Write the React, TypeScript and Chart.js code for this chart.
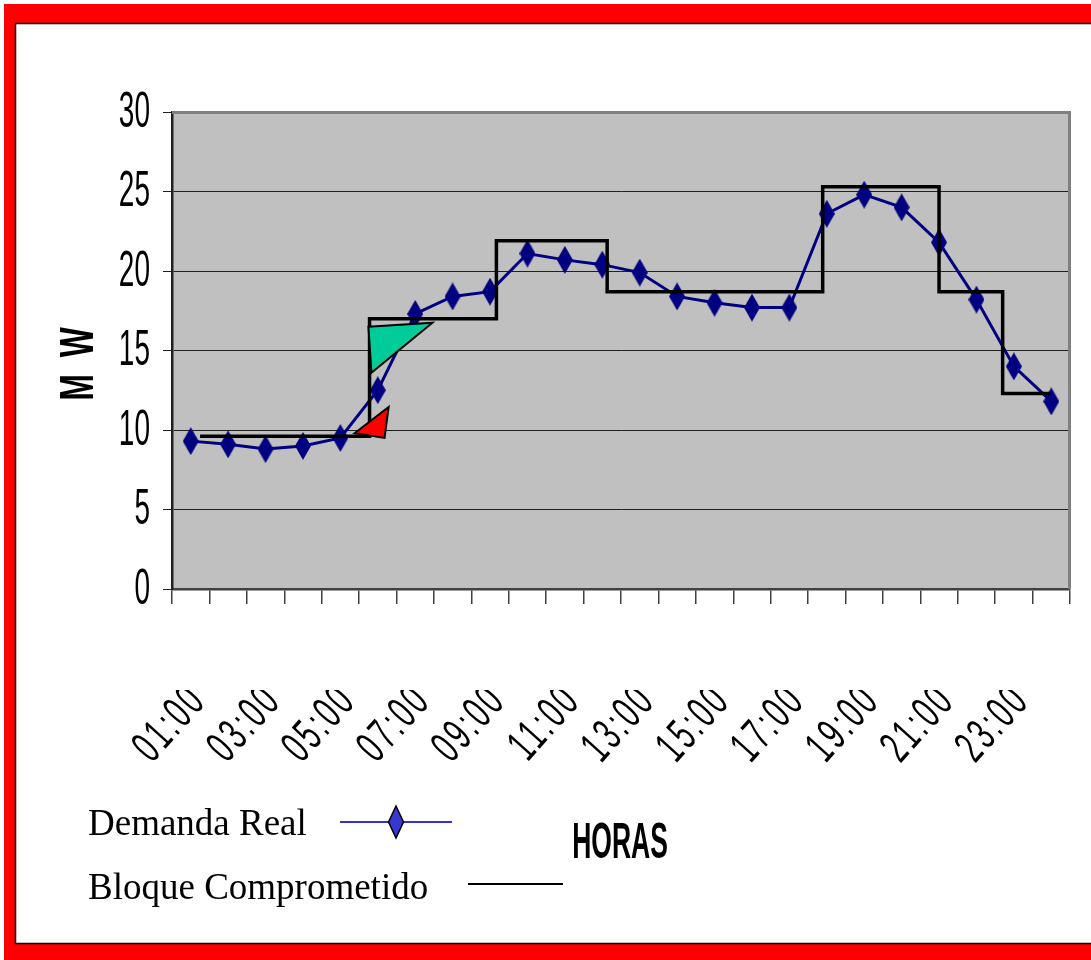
import React, { useEffect, useRef } from "react";
import { Chart, registerables } from "chart.js";

Chart.register(...registerables);

// ---- data ----
const hours = [
  "01:00", "02:00", "03:00", "04:00", "05:00", "06:00", "07:00", "08:00",
  "09:00", "10:00", "11:00", "12:00", "13:00", "14:00", "15:00", "16:00",
  "17:00", "18:00", "19:00", "20:00", "21:00", "22:00", "23:00", "24:00",
];
const demandaReal = [
  9.3, 9.1, 8.8, 9.0, 9.5, 12.5, 17.3, 18.4, 18.7, 21.1, 20.7, 20.4,
  19.9, 18.4, 18.0, 17.7, 17.7, 23.6, 24.8, 24.0, 21.8, 18.2, 14.0, 11.8,
];
// committed block: breakpoints (in hours along the axis) and levels (MW)
const bloqueX = [0.75, 5.28, 8.67, 11.63, 17.39, 20.5, 22.2, 23.47];
const bloqueY = [9.6, 17.0, 21.9, 18.7, 25.3, 18.7, 12.3, 12.3];
const yTicks = [0, 5, 10, 15, 20, 25, 30];
// annotation triangles (axis hours, MW)
const greenTriX = [5.25, 6.96, 5.33];
const greenTriY = [16.5, 16.75, 13.6];
const redTriX = [4.88, 5.79, 5.68];
const redTriY = [9.8, 11.45, 9.5];

const W = 1091;
const H = 960;

function makeDiamond(w: number, h: number, color: string) {
  const c = document.createElement("canvas");
  c.width = w;
  c.height = h;
  const g = c.getContext("2d")!;
  g.fillStyle = color;
  g.beginPath();
  g.moveTo(w / 2, 0);
  g.lineTo(w, h / 2);
  g.lineTo(w / 2, h);
  g.lineTo(0, h / 2);
  g.closePath();
  g.fill();
  return c;
}

function squeezedText(
  ctx: CanvasRenderingContext2D,
  text: string,
  x: number,
  y: number,
  font: string,
  sx: number,
  align: CanvasTextAlign,
  baseline: CanvasTextBaseline,
  rot = 0,
  spacing = "0px"
) {
  ctx.save();
  ctx.translate(x, y);
  ctx.rotate(rot);
  ctx.scale(sx, 1);
  ctx.font = font;
  (ctx as any).letterSpacing = spacing;
  ctx.fillStyle = "#000";
  ctx.textAlign = align;
  ctx.textBaseline = baseline;
  ctx.fillText(text, 0, 0);
  ctx.restore();
}

const framePlugin = {
  id: "framePlugin",
  beforeDraw(chart: any) {
    const ctx = chart.ctx as CanvasRenderingContext2D;
    const a = chart.chartArea;
    ctx.save();
    ctx.fillStyle = "#fff";
    ctx.fillRect(0, 0, W, H);
    ctx.fillStyle = "#ff0000";
    ctx.fillRect(4, 4, W - 4, 19);
    ctx.fillRect(4, 4, 11, H - 4);
    ctx.fillRect(4, 944, W - 4, H - 944);
    ctx.strokeStyle = "#000";
    ctx.lineWidth = 1.5;
    ctx.beginPath();
    ctx.moveTo(15, 23.5);
    ctx.lineTo(W, 23.5);
    ctx.moveTo(15.5, 23);
    ctx.lineTo(15.5, 944);
    ctx.moveTo(15, 943.5);
    ctx.lineTo(W, 943.5);
    ctx.stroke();
    ctx.fillStyle = "#c0c0c0";
    ctx.fillRect(a.left, a.top, a.right - a.left, a.bottom - a.top);
    ctx.restore();
  },
  afterDatasetsDraw(chart: any) {
    const ctx = chart.ctx as CanvasRenderingContext2D;
    const a = chart.chartArea;
    const sx = chart.scales.x2;
    const sy = chart.scales.y;
    ctx.save();
    // plot area frame (top / right)
    ctx.strokeStyle = "#808080";
    ctx.lineWidth = 3;
    ctx.beginPath();
    ctx.moveTo(a.left, a.top + 0.5);
    ctx.lineTo(a.right - 0.5, a.top + 0.5);
    ctx.lineTo(a.right - 0.5, a.bottom);
    ctx.stroke();
    // triangles
    const tri = (xs: number[], ys: number[], fill: string) => {
      ctx.beginPath();
      xs.forEach((v, i) => {
        const px = sx.getPixelForValue(v);
        const py = sy.getPixelForValue(ys[i]);
        if (i === 0) ctx.moveTo(px, py);
        else ctx.lineTo(px, py);
      });
      ctx.closePath();
      ctx.fillStyle = fill;
      ctx.fill();
      ctx.strokeStyle = "#000";
      ctx.lineWidth = 2;
      ctx.lineJoin = "miter";
      ctx.stroke();
    };
    tri(greenTriX, greenTriY, "#00cc99");
    tri(redTriX, redTriY, "#ff0000");
    ctx.restore();
  },
  afterDraw(chart: any) {
    const ctx = chart.ctx as CanvasRenderingContext2D;
    const xs = chart.scales.x;
    const ys = chart.scales.y;
    // y tick labels
    yTicks.forEach((v) => {
      squeezedText(ctx, String(v), 150, ys.getPixelForValue(v) + 1, "50px 'Liberation Sans', Arial, sans-serif", 0.56, "right", "middle");
    });
    // x tick labels (every other hour), clipped at the top as in the original
    ctx.save();
    ctx.beginPath();
    ctx.rect(0, 690, W, 120);
    ctx.clip();
    hours.forEach((lab, i) => {
      if (i % 2 !== 0) return;
      const px = xs.getPixelForValue(i);
      squeezedText(ctx, lab, px + 8, 693, "46px 'Liberation Sans', Arial, sans-serif", 0.6, "right", "middle", -48 * Math.PI / 180, "5px");
    });
    ctx.restore();
    // axis titles
    squeezedText(ctx, "M W", 80, 362, "bold 48px 'Liberation Sans', Arial, sans-serif", 0.66, "center", "middle", -Math.PI / 2, "6px");
    squeezedText(ctx, "HORAS", 620, 844, "bold 50px 'Liberation Sans', Arial, sans-serif", 0.53, "center", "middle");
    // legend
    ctx.save();
    ctx.font = "37px 'Liberation Serif', 'Times New Roman', serif";
    ctx.fillStyle = "#000";
    ctx.textAlign = "left";
    ctx.textBaseline = "alphabetic";
    ctx.fillText("Demanda Real", 88, 835);
    ctx.fillText("Bloque Comprometido", 88, 899);
    ctx.strokeStyle = "#3333cc";
    ctx.lineWidth = 2;
    ctx.beginPath();
    ctx.moveTo(340, 822);
    ctx.lineTo(452, 822);
    ctx.stroke();
    ctx.beginPath();
    ctx.moveTo(396, 806);
    ctx.lineTo(403.5, 822);
    ctx.lineTo(396, 838);
    ctx.lineTo(388.5, 822);
    ctx.closePath();
    ctx.fillStyle = "#3838d0";
    ctx.fill();
    ctx.strokeStyle = "#000";
    ctx.lineWidth = 1.5;
    ctx.stroke();
    ctx.strokeStyle = "#000";
    ctx.lineWidth = 2;
    ctx.beginPath();
    ctx.moveTo(468, 884);
    ctx.lineTo(563, 884);
    ctx.stroke();
    ctx.restore();
  },
};

export default function App() {
  const ref = useRef<HTMLCanvasElement | null>(null);
  useEffect(() => {
    if (!ref.current) return;
    const diamond = makeDiamond(16, 28, "#000080");
    const chart = new Chart(ref.current, {
      type: "line",
      data: {
        labels: hours,
        datasets: [
          {
            label: "Bloque Comprometido",
            data: bloqueX.map((x, i) => ({ x, y: bloqueY[i] })),
            xAxisID: "x2",
            yAxisID: "y",
            borderColor: "#000",
            borderWidth: 3.5,
            stepped: "before",
            pointRadius: 0,
            fill: false,
          } as any,
          {
            label: "Demanda Real",
            data: demandaReal,
            xAxisID: "x",
            yAxisID: "y",
            borderColor: "#000080",
            borderWidth: 3,
            pointStyle: diamond as any,
            pointRadius: 10,
            fill: false,
            tension: 0,
          },
        ],
      },
      options: {
        responsive: false,
        animation: false,
        devicePixelRatio: 1,
        layout: { padding: { left: 172, top: 112, right: 21, bottom: 371 } },
        plugins: { legend: { display: false }, tooltip: { enabled: false }, title: { display: false } },
        scales: {
          x: {
            type: "category",
            offset: true,
            grid: { offset: true, drawOnChartArea: false, drawTicks: true, tickLength: 15, color: "#404040", lineWidth: 1.5 },
            border: { display: true, color: "#404040", width: 2.5 },
            ticks: { display: false },
            afterFit: (s: any) => { s.height = 0; },
          },
          x2: { type: "linear", min: 0, max: 24, display: false },
          y: {
            min: 0,
            max: 30,
            ticks: { stepSize: 5, display: false },
            grid: { color: "#202020", lineWidth: 1, tickLength: 9, drawTicks: true },
            border: { display: true, color: "#202020", width: 2.5 },
            afterFit: (s: any) => { s.width = 0; },
          },
        },
      } as any,
      plugins: [framePlugin],
    });
    return () => chart.destroy();
  }, []);
  return (
    <div style={{ position: "absolute", left: 0, top: 0, width: W, height: H }}>
      <canvas ref={ref} width={W} height={H} style={{ width: W, height: H, display: "block" }} />
    </div>
  );
}
